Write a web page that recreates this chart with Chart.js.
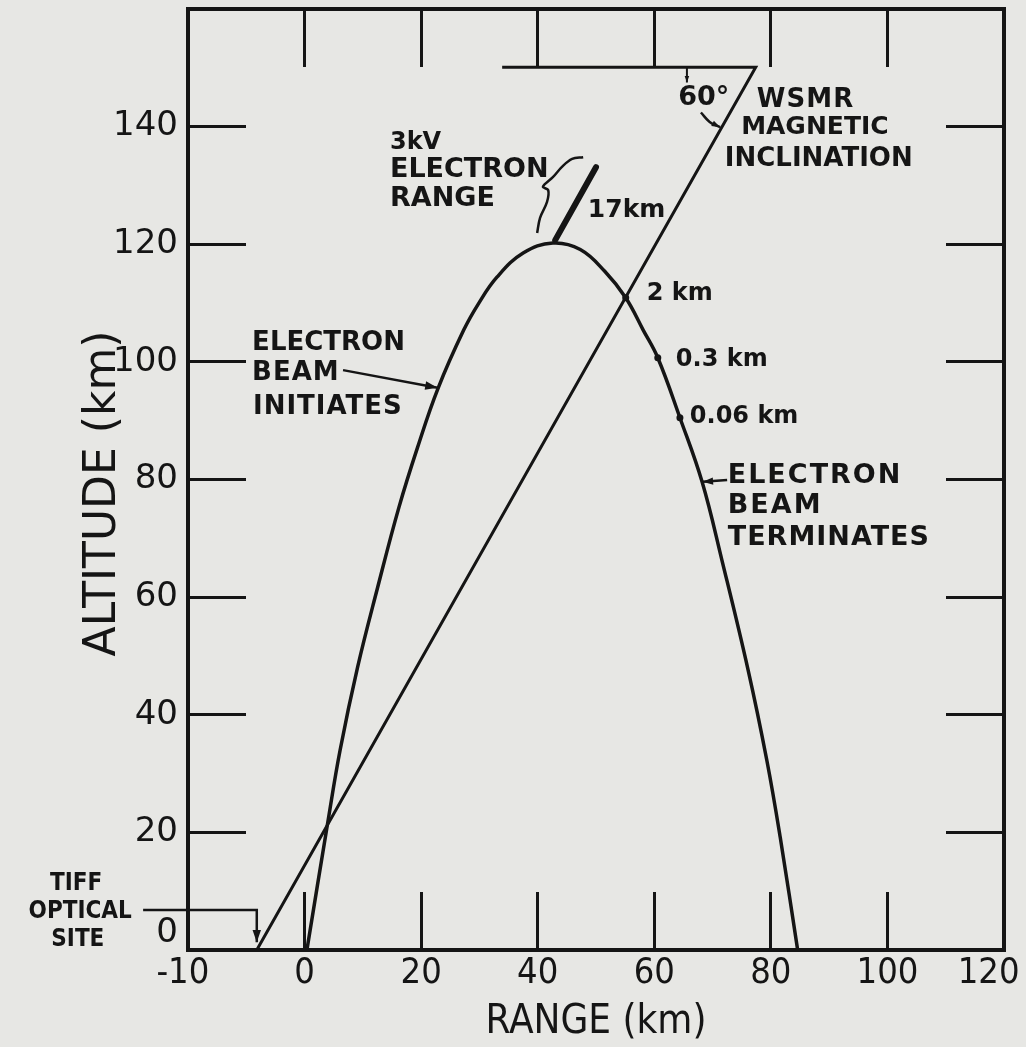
<!DOCTYPE html>
<html>
<head>
<meta charset="utf-8">
<script src="https://cdn.jsdelivr.net/npm/chart.js@4.4.1/dist/chart.umd.min.js"></script>
<style>
  html, body { margin: 0; padding: 0; background: #e7e7e4; }
  #c { display: block; }
</style>
</head>
<body>
<canvas id="c" width="1026" height="1047"></canvas>
<script>
// ---------------- data (km) ----------------
const xTickValues = [-20, 0, 20, 40, 60, 80, 100, 120];
const xTickLabels = ['-10\u00A0', '0', '20', '40', '60', '80', '100', '120\u00A0\u00A0\u00A0'];
const yTickValues = [0, 20, 40, 60, 80, 100, 120, 140];
const yTickLabels = ['0', '20', '40', '60', '80', '100', '120', '140'];

// electron beam trajectory: range (km) vs altitude (km)
const beamRange    = [0.4, 4.0, 6.1, 9.1, 12.5, 16.2, 19.4, 22.9, 27.3, 29.9, 33.0, 37.5, 42.6, 47.3, 51.5, 55.1, 58.1, 60.6, 64.4, 68.2, 71.6, 76.1, 79.3, 81.6, 84.6];
const beamAltitude = [0, 21.8, 34.0, 48.1, 61.5, 75.3, 85.5, 95.5, 105.4, 110.0, 114.4, 118.5, 120.2, 119.1, 115.4, 110.9, 105.4, 100.7, 90.5, 79.6, 66.3, 47.6, 32.3, 19.2, 0];

// WSMR magnetic inclination line (60 deg) from TIFF optical site, plus reference horizontal
const inclinationRange    = [-8.2, 77.4, 33.9];
const inclinationAltitude = [0, 150.1, 150.1];

// 3 kV electron range bar (17 km)
const electronRangeBarX = [43.0, 50.0];
const electronRangeBarY = [120.7, 133.1];

// brace next to "3kV ELECTRON RANGE"
const braceX = [47.8, 45.9, 44.2, 42.6, 40.9, 41.8, 41.6, 40.4, 39.9];
const braceY = [134.8, 134.5, 133.2, 131.4, 129.8, 129.2, 127.2, 124.5, 121.9];

// marked points along beam: 2 km, 0.3 km, 0.06 km
const markerRange    = [55.1, 60.6, 64.4];
const markerAltitude = [110.9, 100.7, 90.5];

// pointer arrows
const tiffArrowX = [-27.7, -8.2, -8.2];
const tiffArrowY = [6.8, 6.8, 1.3];
const initiatesArrowX = [6.6, 22.8];
const initiatesArrowY = [98.6, 95.6];
const terminatesArrowX = [72.5, 68.3];
const terminatesArrowY = [79.9, 79.6];
const angleTickX = [65.6, 65.6];
const angleTickY = [150.1, 147.5];
const angleArcX = [68.0, 69.5, 71.3];
const angleArcY = [142.4, 140.8, 139.9];

// text annotations (data coordinates)
const annotations = [
  { text: '3kV', x: 14.65, y: 137.2, size: 24 },
  { text: 'ELECTRON', x: 14.65, y: 132.6, size: 27 },
  { text: 'RANGE', x: 14.65, y: 127.7, size: 27 },
  { text: '17km', x: 48.6, y: 125.7, size: 25 },
  { text: '60°', x: 64.1, y: 144.9, size: 27 },
  { text: 'WSMR', x: 77.6, y: 144.4, size: 26, ls: 1 },
  { text: 'MAGNETIC', x: 74.9, y: 139.8, size: 25 },
  { text: 'INCLINATION', x: 72.1, y: 134.5, size: 26 },
  { text: 'ELECTRON', x: -9.0, y: 103.2, size: 26 },
  { text: 'BEAM', x: -9.0, y: 98.1, size: 26, ls: 1 },
  { text: 'INITIATES', x: -8.85, y: 92.3, size: 26, ls: 1 },
  { text: '2 km', x: 58.7, y: 111.5, size: 24 },
  { text: '0.3 km', x: 63.7, y: 100.3, size: 24 },
  { text: '0.06 km', x: 66.1, y: 90.6, size: 24 },
  { text: 'ELECTRON', x: 72.6, y: 80.6, size: 27, ls: 2 },
  { text: 'BEAM', x: 72.6, y: 75.5, size: 27, ls: 2 },
  { text: 'TERMINATES', x: 72.6, y: 70.1, size: 27, ls: 1 },
  { text: 'TIFF', x: -39.2, y: 11.2, size: 24, cond: true, align: 'center' },
  { text: 'OPTICAL', x: -38.5, y: 6.5, size: 24, cond: true, align: 'center' },
  { text: 'SITE', x: -38.9, y: 1.7, size: 24, cond: true, align: 'center' }
];

// ---------------- rendering ----------------
const INK = '#151515';
const SANS = "'DejaVu Sans', 'Noto Sans', sans-serif";
const COND = "'DejaVu Sans Condensed', 'Liberation Sans Narrow', 'DejaVu Sans', sans-serif";
const pts = (xs, ys) => xs.map((v, i) => ({ x: v, y: ys[i] }));

function lineDs(xs, ys, extra) {
  return Object.assign({
    data: pts(xs, ys), showLine: true, borderColor: INK, backgroundColor: INK,
    borderWidth: 2.5, pointRadius: 0, tension: 0, fill: false
  }, extra || {});
}

const datasets = [
  lineDs(beamRange, beamAltitude, { borderWidth: 3.5, tension: 0.4 }),
  lineDs(inclinationRange, inclinationAltitude, { borderWidth: 3 }),
  lineDs(electronRangeBarX, electronRangeBarY, { borderWidth: 6, borderCapStyle: 'round' }),
  lineDs(braceX, braceY, { borderWidth: 2.5, tension: 0.35 }),
  { data: pts(markerRange, markerAltitude), showLine: false, pointRadius: 3.5, pointStyle: 'circle',
    backgroundColor: INK, borderColor: INK, borderWidth: 0 },
  lineDs(tiffArrowX, tiffArrowY, { clip: false, arrowSize: 13 }),
  lineDs(initiatesArrowX, initiatesArrowY, { arrowSize: 13 }),
  lineDs(terminatesArrowX, terminatesArrowY, { arrowSize: 11 }),
  lineDs(angleTickX, angleTickY, { borderWidth: 2, arrowSize: 7 }),
  lineDs(angleArcX, angleArcY, { borderWidth: 2.5, tension: 0.4, arrowSize: 9 })
];

const arrowPlugin = {
  id: 'arrowHeads',
  afterDatasetsDraw(chart) {
    const ctx = chart.ctx;
    chart.data.datasets.forEach((ds, i) => {
      if (!ds.arrowSize) return;
      const els = chart.getDatasetMeta(i).data;
      const a = els[els.length - 2], b = els[els.length - 1];
      const ang = Math.atan2(b.y - a.y, b.x - a.x);
      const s = ds.arrowSize;
      ctx.save();
      ctx.fillStyle = INK;
      ctx.beginPath();
      ctx.moveTo(b.x, b.y);
      ctx.lineTo(b.x - s * Math.cos(ang - 0.33), b.y - s * Math.sin(ang - 0.33));
      ctx.lineTo(b.x - s * Math.cos(ang + 0.33), b.y - s * Math.sin(ang + 0.33));
      ctx.closePath();
      ctx.fill();
      ctx.restore();
    });
  }
};

const textPlugin = {
  id: 'figureTexts',
  afterDatasetsDraw(chart) {
    const { ctx } = chart;
    const sx = chart.scales.x, sy = chart.scales.y;
    ctx.save();
    ctx.fillStyle = INK;
    ctx.textBaseline = 'middle';
    annotations.forEach(t => {
      ctx.font = 'bold ' + t.size + 'px ' + (t.cond ? COND : SANS);
      ctx.textAlign = t.align || 'left';
      if ('letterSpacing' in ctx) ctx.letterSpacing = (t.ls || 0) + 'px';
      ctx.fillText(t.text, sx.getPixelForValue(t.x), sy.getPixelForValue(t.y));
    });
    ctx.restore();
  }
};

const innerGrid = { drawOnChartArea: false, drawTicks: true, tickLength: -58, tickWidth: 3, tickColor: INK };
const frameBorder = { display: true, width: 4, color: INK };

new Chart(document.getElementById('c'), {
  type: 'scatter',
  data: { datasets },
  options: {
    responsive: false,
    devicePixelRatio: 1,
    animation: false,
    layout: { padding: 0 },
    plugins: { legend: { display: false }, tooltip: { enabled: false } },
    scales: {
      x: {
        type: 'linear', position: 'bottom', min: -20, max: 120,
        afterBuildTicks: s => { s.ticks = xTickValues.map(v => ({ value: v })); },
        ticks: {
          autoSkip: false, maxRotation: 0, padding: 64, color: INK,
          font: { family: COND, size: 36, lineHeight: 1 },
          callback: v => xTickLabels[xTickValues.indexOf(v)]
        },
        grid: innerGrid, border: frameBorder,
        title: { display: true, text: 'RANGE (km)', color: INK,
          font: { family: COND, size: 40, lineHeight: 1 }, padding: { top: 0, bottom: 4 } },
        afterFit: s => { s.height = 97; s.paddingLeft = 0; s.paddingRight = 0; }
      },
      xTop: {
        type: 'linear', position: 'top', min: -20, max: 120,
        afterBuildTicks: s => { s.ticks = xTickValues.map(v => ({ value: v })); },
        ticks: { display: false },
        grid: innerGrid, border: frameBorder,
        afterFit: s => { s.height = 9; s.paddingLeft = 0; s.paddingRight = 0; }
      },
      y: {
        type: 'linear', position: 'left', min: 0, max: 160,
        afterBuildTicks: s => { s.ticks = yTickValues.concat([160]).map(v => ({ value: v })); },
        ticks: {
          autoSkip: false, padding: 68, color: INK,
          font: { family: SANS, size: 34, lineHeight: 1 },
          callback: v => {
            const i = yTickValues.indexOf(v);
            if (i < 0) return '';
            return v === 0 ? [yTickLabels[i], ''] : yTickLabels[i];
          }
        },
        grid: innerGrid, border: frameBorder,
        title: { display: true, text: 'ALTITUDE (km)\u00A0\u00A0', color: INK,
          font: { family: SANS, size: 44, lineHeight: 1 }, padding: { top: 82, bottom: 0 } },
        afterFit: s => { s.width = 188; s.paddingTop = 0; s.paddingBottom = 0; }
      },
      yRight: {
        type: 'linear', position: 'right', min: 0, max: 160,
        afterBuildTicks: s => { s.ticks = yTickValues.concat([160]).map(v => ({ value: v })); },
        ticks: { display: false },
        grid: innerGrid, border: frameBorder,
        afterFit: s => { s.width = 22; s.paddingTop = 0; s.paddingBottom = 0; }
      }
    }
  },
  plugins: [arrowPlugin, textPlugin]
});
</script>
</body>
</html>
